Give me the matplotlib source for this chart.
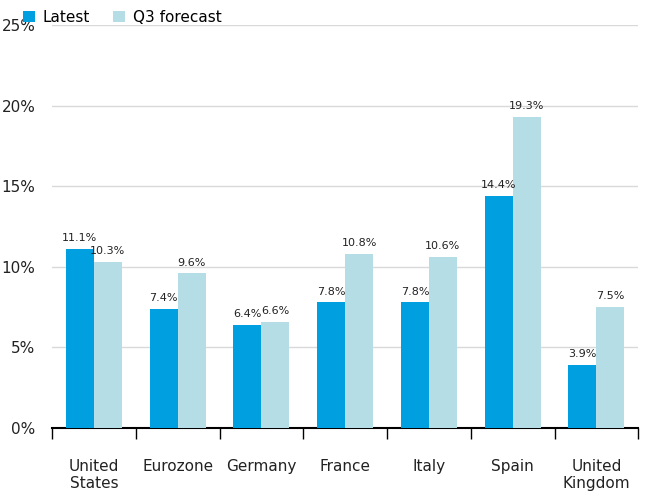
import matplotlib
matplotlib.use("Agg")
import matplotlib.pyplot as plt
import numpy as np

categories = ["United\nStates", "Eurozone", "Germany", "France", "Italy", "Spain", "United\nKingdom"]
latest = [11.1, 7.4, 6.4, 7.8, 7.8, 14.4, 3.9]
forecast = [10.3, 9.6, 6.6, 10.8, 10.6, 19.3, 7.5]
yticks = [0, 5, 10, 15, 20, 25]

c1 = "#009FDF"
c2 = "#B4DDE6"

fig = plt.figure(figsize=(6.5, 5), dpi=100)
ax = fig.add_axes([0.08, 0.144, 0.902, 0.806])
x = np.arange(len(categories))
w = 0.335
b1 = ax.bar(x - w/2, latest, w, color=c1, label="Latest", zorder=3)
b2 = ax.bar(x + w/2, forecast, w, color=c2, label="Q3 forecast", zorder=3)
for bars, vals in ((b1, latest), (b2, forecast)):
    for r, v in zip(bars, vals):
        ax.text(r.get_x() + r.get_width()/2, v + 0.35, f"{v:.1f}%", ha="center", va="bottom", fontsize=8, color="#222222")

ax.set_xlim(-0.5, len(categories) - 0.5)
ax.set_ylim(0, 25)
ax.set_yticks(yticks)
ax.set_yticklabels([f"{t}%" for t in yticks], fontsize=11, color="#222222")
ax.set_xticks(x)
ax.set_xticklabels(categories, fontsize=11, color="#222222")
ax.tick_params(axis="x", which="major", length=0, pad=22)
ax.set_xticks(np.arange(-0.5, len(categories)), minor=True)
ax.tick_params(axis="x", which="minor", length=8, width=1, color="black", direction="out")
ax.tick_params(axis="y", length=0, pad=12)
ax.grid(axis="y", color="#D9D9D9", linewidth=1, zorder=0)
for s in ["top", "right", "left"]:
    ax.spines[s].set_visible(False)
ax.spines["bottom"].set_color("black")
ax.spines["bottom"].set_linewidth(1.5)
ax.legend(loc="lower left", bbox_to_anchor=(-0.06, 0.985), ncol=2, frameon=False, fontsize=11,
          handlelength=0.8, handleheight=0.8, columnspacing=1.5, borderaxespad=0, handletextpad=0.5)
fig.savefig("out.png", dpi=100)
